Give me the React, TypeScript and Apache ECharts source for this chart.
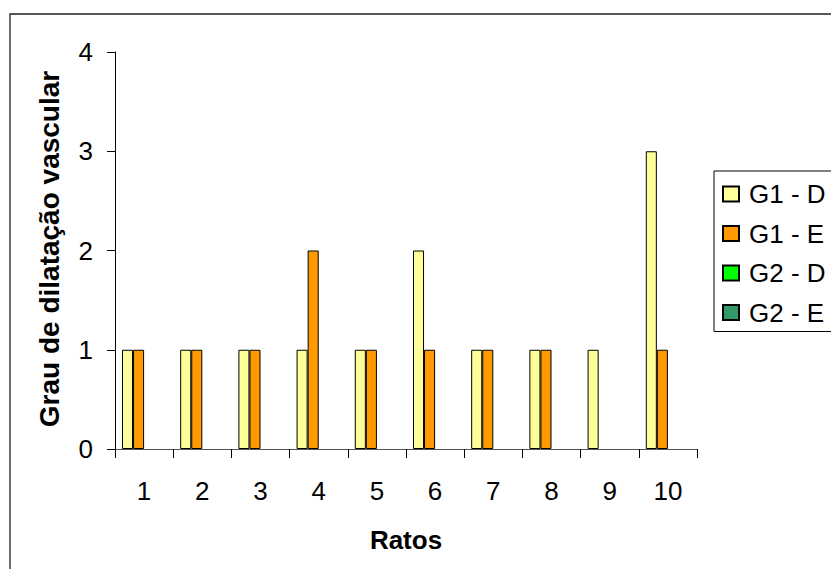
import React, { useEffect, useRef } from "react";
import * as echarts from "echarts";

const categories = ["1", "2", "3", "4", "5", "6", "7", "8", "9", "10"];
const g1D = [1, 1, 1, 1, 1, 2, 1, 1, 1, 3];
const g1E = [1, 1, 1, 2, 1, 1, 1, 1, null, 1];
const g2D = [null, null, null, null, null, null, null, null, null, null];
const g2E = [null, null, null, null, null, null, null, null, null, null];
const seriesNames = ["G1 - D", "G1 - E", "G2 - D", "G2 - E"];
const seriesColors = ["#FFFF99", "#FF9900", "#00FF00", "#339966"];
const yTicks = [0, 1, 2, 3, 4];

const FONT = "'Liberation Sans', Arial, sans-serif";

export default function App() {
  const ref = useRef<HTMLDivElement>(null);
  useEffect(() => {
    if (!ref.current) return;
    const chart = echarts.init(ref.current, undefined, { renderer: "svg" });
    const data = [g1D, g1E, g2D, g2E];
    chart.setOption({
      animation: false,
      backgroundColor: "#fff",
      textStyle: { fontFamily: FONT },
      grid: { left: 115, top: 52, right: 134, bottom: 120, containLabel: false },
      legend: {
        orient: "vertical",
        left: 714,
        top: 171,
        padding: [10, 40, 6, 8],
        borderColor: "#000",
        borderWidth: 1,
        itemWidth: 16,
        itemHeight: 15,
        itemGap: 13.5,
        icon: "rect",
        data: seriesNames,
        textStyle: { fontSize: 26, color: "#000", fontFamily: FONT, padding: [0, 0, 0, 5] },
      },
      xAxis: {
        type: "category",
        data: categories,
        axisLine: { lineStyle: { color: "#555", width: 1 } },
        axisTick: { show: true, length: 9, lineStyle: { color: "#000" } },
        axisLabel: { fontSize: 26, color: "#000", margin: 29, fontFamily: FONT },
        splitLine: { show: false },
      },
      yAxis: {
        type: "value",
        min: yTicks[0],
        max: yTicks[yTicks.length - 1],
        interval: 1,
        axisLine: { show: true, lineStyle: { color: "#000", width: 1 } },
        axisTick: { show: true, length: 8, lineStyle: { color: "#000" } },
        axisLabel: { fontSize: 26, color: "#000", margin: 22, fontFamily: FONT },
        splitLine: { show: false },
      },
      series: seriesNames.map((name, i) => ({
        name,
        type: "bar",
        data: data[i],
        barGap: "0%",
        barCategoryGap: "24%",
        itemStyle: { color: seriesColors[i], borderColor: "#000", borderWidth: 1 },
      })),
      graphic: [
        {
          type: "rect",
          shape: { x: 10, y: 14, width: 900, height: 700 },
          style: { fill: "none", stroke: "#222", lineWidth: 1.3 },
          silent: true,
        },
        {
          type: "text",
          x: 49,
          y: 249,
          rotation: Math.PI / 2,
          style: {
            text: "Grau de dilatação vascular",
            fontSize: 28,
            fontWeight: "bold",
            fontFamily: FONT,
            fill: "#000",
            textAlign: "center",
            textVerticalAlign: "middle",
          },
        },
        {
          type: "text",
          x: 406,
          y: 540,
          style: {
            text: "Ratos",
            fontSize: 26,
            fontWeight: "bold",
            fontFamily: FONT,
            fill: "#000",
            textAlign: "center",
            textVerticalAlign: "middle",
          },
        },
      ],
    });
    return () => chart.dispose();
  }, []);
  return (
    <div
      ref={ref}
      style={{ position: "fixed", left: 0, top: 0, width: 831, height: 569 }}
    />
  );
}
